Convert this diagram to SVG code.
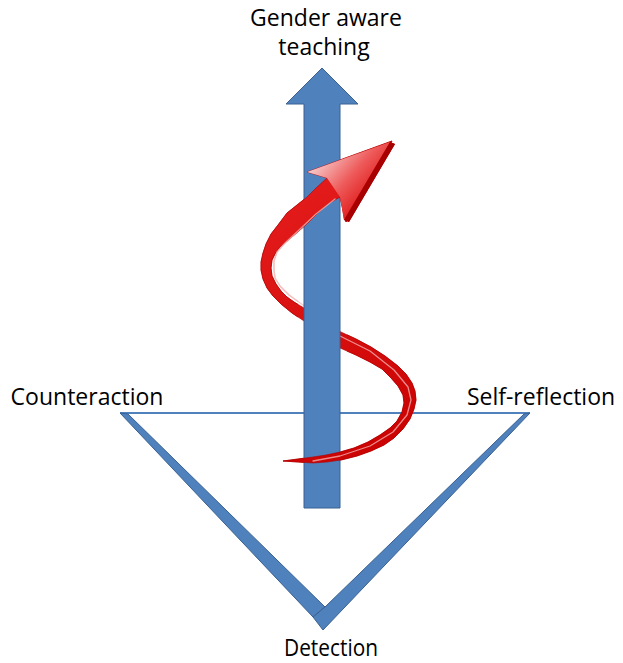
<svg xmlns="http://www.w3.org/2000/svg" xmlns:xlink="http://www.w3.org/1999/xlink" width="623" height="663" viewBox="0 0 623 663">
<style>
.lbl{font-family:"Open Sans","Liberation Sans",sans-serif;font-size:23px;fill:#000;text-anchor:middle}
.blue{fill:#4F81BD;stroke:#3A6192;stroke-width:1}
</style>
<defs>
<linearGradient id="rg" gradientUnits="userSpaceOnUse" x1="260" y1="200" x2="420" y2="460">
<stop offset="0" stop-color="#E41C1C"/>
<stop offset="1" stop-color="#C80000"/>
</linearGradient>
<linearGradient id="hg" gradientUnits="userSpaceOnUse" x1="320" y1="160" x2="370" y2="205">
<stop offset="0" stop-color="#F7C6C6"/>
<stop offset="0.5" stop-color="#EE5A5A"/>
<stop offset="1" stop-color="#DD1010"/>
</linearGradient>
<clipPath id="front">
<path clip-rule="evenodd" d="M0,0H623V663H0Z M298,292H347V362H298Z"/>
</clipPath>
<g id="ribbon">
<path fill="url(#rg)" stroke="#B00000" stroke-width="0.6" stroke-linejoin="round" d="M327,178 L316,188 L307,197 L297,205 L287,213 L278,225 L271,234 L266,244 L263,253 L261,262 L261,270 L263,279 L267,288 L273,296 L281,304 L292,313 L304,321 L322,335 L340,348 L356,355 L370,362 L382,369 L391,378 L398,386 L403,395 L404,403 L402,412 L397,421 L390,428 L380,435 L368,442 L354,448 L340,452 L326,455 L313,457 L298,459 L283,461 L298,462 L313,463 L327,462 L341,460 L357,456 L371,451 L384,445 L394,438 L403,429 L410,419 L414,409 L416,400 L415,391 L412,383 L406,374 L398,366 L385,356 L371,347 L356,339 L341,332 L322,320 L304,308 L294,302 L287,297 L281,291 L276,284 L272,276 L271,268 L272,260 L275,254 L280,247 L286,242 L293,236 L300,230 L309,222 L318,213 L328,204 L340,197 L346,222 L392,141 L307,172 Z"/>
<polyline fill="none" stroke="#F6B8B8" stroke-width="1.3" stroke-linejoin="round" stroke-linecap="round" opacity="0.75" points="335,199 316,214 298,231 285,243 277,252 274,261 274,270 275,278 280,286 289,295 303,305 322,318 340,336 370,351 394,370 408,387 411,400 407,415 393,432 370,446 340,456 313,461"/>
<polygon fill="url(#hg)" points="307,172 390,142 344,220 340,197 327,178"/>
<polygon fill="#A80000" points="390,142 395,144 349,222 344,220"/>
</g>
</defs>
<g id="triangle">
<path d="M120,413 H530" stroke="#4F81BD" stroke-width="2.2" fill="none"/>
<path class="blue" d="M120,413 L128,414 L325,607 L313,617 Z"/>
<path class="blue" d="M530,413 L323,630 L313,617 L325,607 L524,414 Z"/>
</g>
<g id="spiral-back">
<use xlink:href="#ribbon"/>
</g>
<g id="main-arrow">
<path class="blue" d="M304,508 V104 H286 L322,68 L358,104 H340 V508 Z"/>
</g>
<g id="spiral-front" clip-path="url(#front)">
<use xlink:href="#ribbon"/>
</g>
<g id="labels">
<text class="lbl" x="326" y="26">Gender aware</text>
<text class="lbl" x="324" y="55">teaching</text>
<text class="lbl" x="87" y="405">Counteraction</text>
<text class="lbl" x="541" y="405">Self-reflection</text>
<text class="lbl" x="331" y="656" textLength="94" lengthAdjust="spacingAndGlyphs">Detection</text>
</g>
</svg>
